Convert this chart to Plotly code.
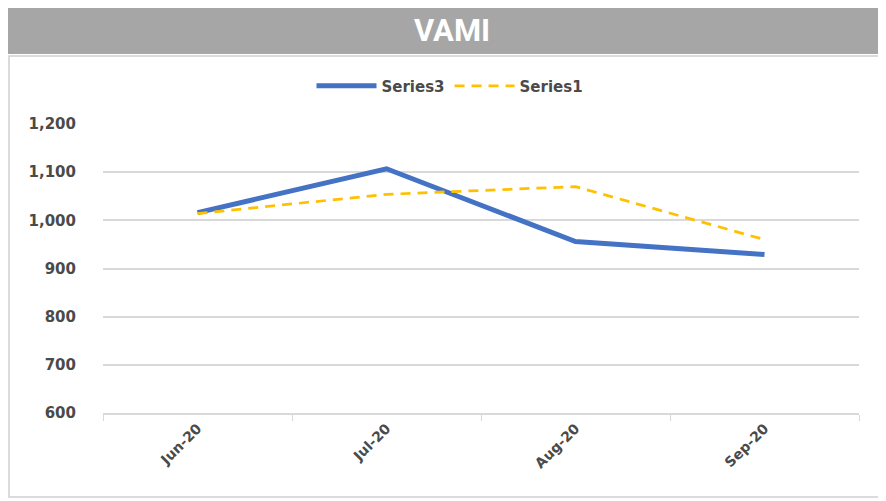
import plotly.graph_objects as go

categories = ["Jun-20", "Jul-20", "Aug-20", "Sep-20"]
series3 = [1016, 1107, 956, 929]
series1 = [1014, 1054, 1070, 960]
y_ticks = [600, 700, 800, 900, 1000, 1100, 1200]
y_tick_labels = ["600", "700", "800", "900", "1,000", "1,100", "1,200"]

# page body has an 8px default margin; compensate
OFF = 8
W, H = 886 - OFF, 501 - OFF
L, R, T, B = 103, 859, 124, 413
pw, ph = R - L, B - T

def px(x):
    return (x - L) / pw

def py(y):
    return (B - y) / ph

LBL = "DejaVu Sans, Verdana, sans-serif"

fig = go.Figure()
fig.add_trace(go.Scatter(x=categories, y=series3, name="Series3", mode="lines",
                         line=dict(color="#4472C4", width=5)))
fig.add_trace(go.Scatter(x=categories, y=series1, name="Series1", mode="lines",
                         line=dict(color="#FFC000", width=2.75, dash="10px,7px")))

fig.update_layout(
    width=W, height=H,
    margin=dict(l=L - OFF, r=886 - R, t=T - OFF, b=501 - B, pad=0),
    paper_bgcolor="white", plot_bgcolor="white",
    font=dict(family=LBL, color="#595959"),
    showlegend=True,
    legend=dict(orientation="h", x=px(450), y=py(86), xanchor="center", yanchor="middle",
                font=dict(size=15, color="#4a4a4a", family=LBL, weight="bold"),
                bgcolor="rgba(0,0,0,0)", itemwidth=60),
    xaxis=dict(type="category", range=[-0.5, 3.5], showgrid=False,
               showline=True, linecolor="#D9D9D9", linewidth=1.5,
               ticks="outside", tickson="boundaries", ticklen=6, tickcolor="#D9D9D9",
               tickangle=-45, tickfont=dict(size=14, color="#4a4a4a", family=LBL, weight="bold"),
               fixedrange=True),
    yaxis=dict(range=[600, 1200], tickvals=y_ticks, ticktext=y_tick_labels,
               showgrid=True, gridcolor="#D9D9D9", gridwidth=1.5, zeroline=False,
               showline=False, ticks="", ticklabelstandoff=26,
               tickfont=dict(size=15, color="#4a4a4a", family=LBL, weight="bold"),
               fixedrange=True),
    shapes=[
        dict(type="rect", xref="paper", yref="paper",
             x0=px(0), x1=px(886), y0=py(54), y1=py(6),
             fillcolor="#A6A6A6", line=dict(width=0), layer="below"),
        dict(type="rect", xref="paper", yref="paper",
             x0=px(9), x1=px(885), y0=py(497), y1=py(56),
             fillcolor="rgba(0,0,0,0)", line=dict(width=1.5, color="#D0D0D0"), layer="below"),
    ],
    annotations=[
        dict(text="<b>VAMI</b>", xref="paper", yref="paper", x=px(452), y=py(31),
             xanchor="center", yanchor="middle", showarrow=False,
             font=dict(size=31, color="white", family="Liberation Sans Narrow, Roboto, sans-serif")),
    ],
)

fig.write_html("out.html")
